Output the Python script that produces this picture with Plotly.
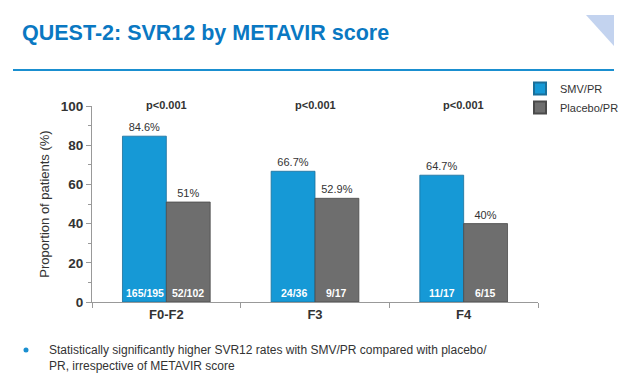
import plotly.graph_objects as go

categories = ["F0-F2", "F3", "F4"]
smv_values = [84.6, 66.7, 64.7]
placebo_values = [51, 52.9, 40]
smv_labels = ["84.6%", "66.7%", "64.7%"]
placebo_labels = ["51%", "52.9%", "40%"]
smv_counts = ["165/195", "24/36", "11/17"]
placebo_counts = ["52/102", "9/17", "6/15"]
p_values = ["p<0.001", "p<0.001", "p<0.001"]

BLUE = "#1699d6"
GRAY = "#6e6e6e"
FONT = "Liberation Sans, Arial, sans-serif"

W, H = 620, 387
L, R, T, B = 92, 82, 106, 85
pw, ph = W - L - R, H - T - B

def px(x):
    return (x - L) / pw

def py(y):
    return (H - B - y) / ph

fig = go.Figure()
fig.add_trace(go.Bar(
    x=categories, y=smv_values, name="SMV/PR",
    marker=dict(color=BLUE, line=dict(color="#1a6f9a", width=0.8)),
    text=smv_labels, textposition="outside",
    textfont=dict(size=11, color="#333333", family=FONT),
    cliponaxis=False,
))
fig.add_trace(go.Bar(
    x=categories, y=placebo_values, name="Placebo/PR",
    marker=dict(color=GRAY, line=dict(color="#4a4a4a", width=0.8)),
    text=placebo_labels, textposition="outside",
    textfont=dict(size=11, color="#333333", family=FONT),
    cliponaxis=False,
))

annotations = []
bar_w = 43
for cat, sc, pc, pv in zip(categories, smv_counts, placebo_counts, p_values):
    annotations.append(dict(x=cat, y=0, xref="x", yref="y", text="<b>%s</b>" % sc,
                            xshift=-bar_w / 2, yshift=9, showarrow=False,
                            font=dict(size=10.5, color="white", family=FONT)))
    annotations.append(dict(x=cat, y=0, xref="x", yref="y", text="<b>%s</b>" % pc,
                            xshift=bar_w / 2, yshift=9, showarrow=False,
                            font=dict(size=10.5, color="white", family=FONT)))
    annotations.append(dict(x=cat, y=py(105.5), xref="x", yref="paper", text="<b>%s</b>" % pv,
                            showarrow=False, yanchor="middle",
                            font=dict(size=11, color="#333333", family=FONT)))

annotations.append(dict(x=px(47), y=py(350), xref="paper", yref="paper",
                        xanchor="left", yanchor="middle", align="left", showarrow=False,
                        text="Statistically significantly higher SVR12 rates with SMV/PR compared with placebo/",
                        font=dict(size=12, color="#333333", family=FONT)))
annotations.append(dict(x=px(47), y=py(366), xref="paper", yref="paper",
                        xanchor="left", yanchor="middle", align="left", showarrow=False,
                        text="PR, irrespective of METAVIR score",
                        font=dict(size=12, color="#333333", family=FONT)))

shapes = [
    dict(type="line", xref="paper", yref="paper", x0=px(13), x1=px(614), y0=py(70), y1=py(70),
         line=dict(color="#1a8fd0", width=2)),
    dict(type="path", xref="paper", yref="paper",
         path="M %f,%f L %f,%f L %f,%f Z" % (px(586), py(15), px(614), py(15), px(614), py(46)),
         fillcolor="#c3d3ef", line=dict(width=0)),
    dict(type="circle", xref="paper", yref="paper",
         x0=px(23.5), x1=px(28.5), y0=py(347.5), y1=py(352.5),
         fillcolor="#1a8fd0", line=dict(width=0)),
]

fig.update_layout(
    width=W, height=H,
    margin=dict(l=L, r=R, t=T, b=B, autoexpand=False),
    paper_bgcolor="white", plot_bgcolor="white",
    barmode="group", bargap=0.41, bargroupgap=0,
    font=dict(family=FONT, color="#333333"),
    title=dict(text="<b>QUEST-2: SVR12 by METAVIR score</b>", x=22 / W, xref="container",
               xanchor="left", y=1 - 32 / H, yref="container", yanchor="middle",
               font=dict(size=21.5, color="#0a78c2", family=FONT)),
    legend=dict(x=520 / W, y=1 - 74 / H, xref="container", yref="container",
                xanchor="left", yanchor="top",
                font=dict(size=11, color="#333333", family=FONT),
                bgcolor="rgba(0,0,0,0)", tracegroupgap=0, itemsizing="constant"),
    xaxis=dict(showline=True, linecolor="#999999", linewidth=1, ticks="outside",
               tickson="boundaries", ticklen=5, tickcolor="#999999",
               tickfont=dict(size=13, color="#333333", family=FONT),
               tickprefix="<b>", ticksuffix="</b>"),
    yaxis=dict(range=[0, 100], dtick=20, showline=True, linecolor="#999999", linewidth=1,
               ticks="outside", ticklen=5, tickcolor="#999999", showgrid=False, zeroline=False,
               tickfont=dict(size=13.5, color="#333333", family=FONT),
               tickprefix="<b>", ticksuffix="</b>",
               minor=dict(dtick=10, ticks="outside", ticklen=3, tickcolor="#999999"),
               title=dict(text="Proportion of patients (%)", standoff=8,
                          font=dict(size=13, color="#333333", family=FONT))),
    annotations=annotations,
    shapes=shapes,
)

fig.write_html("out.html", config={"displayModeBar": False},
               post_script="document.body.style.margin='0';")
